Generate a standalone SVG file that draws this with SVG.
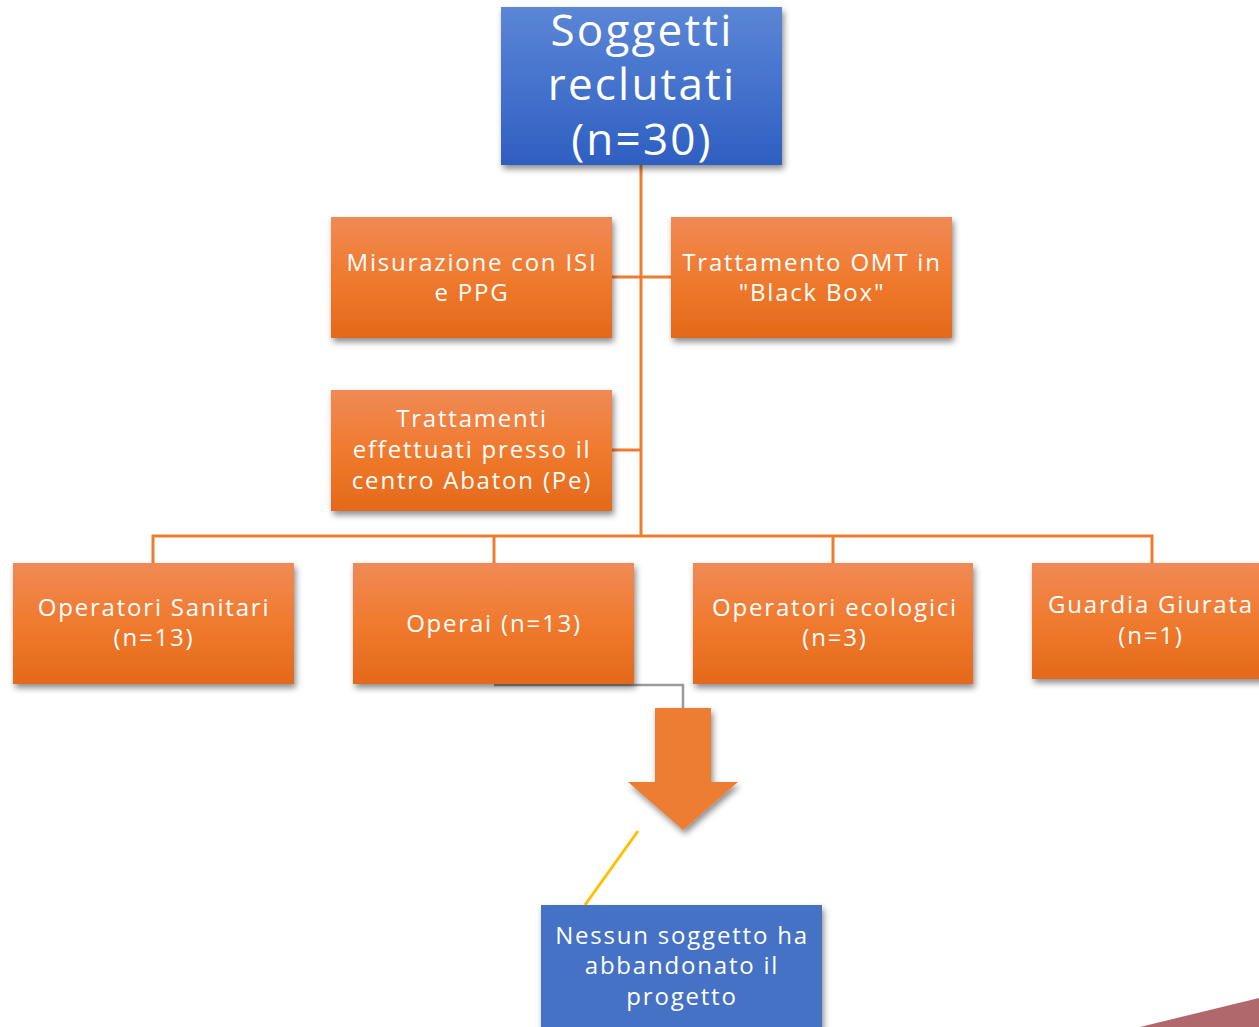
<svg xmlns="http://www.w3.org/2000/svg" width="1259" height="1027" viewBox="0 0 1259 1027">
<defs>
<linearGradient id="gOr" x1="0" y1="0" x2="0" y2="1"><stop offset="0" stop-color="#f08a55"/><stop offset="0.5" stop-color="#f07a2e"/><stop offset="1" stop-color="#e4691a"/></linearGradient>
<linearGradient id="gBl" x1="0" y1="0" x2="0" y2="1"><stop offset="0" stop-color="#5b86d6"/><stop offset="1" stop-color="#2e5fc2"/></linearGradient>
<filter id="sh" x="-10%" y="-10%" width="125%" height="130%"><feDropShadow dx="2" dy="4" stdDeviation="3" flood-color="#000" flood-opacity="0.45"/></filter>
</defs>
<style>
.t{font-family:"Open Sans","Liberation Sans",Arial,sans-serif;fill:#ffffff;text-anchor:middle}
.b{font-size:24px;letter-spacing:1.8px}
.h{font-size:44px;letter-spacing:2.2px}
.c{stroke:#ed7d31;stroke-width:3;fill:none}
.or{fill:url(#gOr);filter:url(#sh)}
</style>
<rect width="1259" height="1027" fill="#ffffff"/>
<polygon points="1140,1027 1259,998 1259,1027" fill="#b0686c"/>
<g id="connectors">
<path class="c" d="M641,165 V536 M612,277 H671 M612,450 H641 M153,563 V536 H1152 V563 M494,536 V563 M833,536 V563"/>
<path d="M494,685 H683 V708" stroke="#9a9a9a" stroke-width="2.5" fill="none"/>
<line x1="638" y1="831" x2="585" y2="905" stroke="#ffc000" stroke-width="3"/>
</g>
<g id="n-top"><rect x="501" y="7" width="281" height="158" fill="url(#gBl)" filter="url(#sh)"/>
<text class="t h" x="642" y="46">Soggetti</text><text class="t h" x="642" y="100">reclutati</text><text class="t h" x="642" y="155">(n=30)</text></g>
<g id="n-misurazione"><rect class="or" x="331" y="217" width="281" height="121"/>
<text class="t b" x="472" y="271">Misurazione con ISI</text><text class="t b" x="472" y="301">e PPG</text></g>
<g id="n-omt"><rect class="or" x="671" y="217" width="281" height="121"/>
<text class="t b" x="812" y="271">Trattamento OMT in</text><text class="t b" x="812" y="301">"Black Box"</text></g>
<g id="n-abaton"><rect class="or" x="331" y="390" width="281" height="121"/>
<text class="t b" x="472" y="427">Trattamenti</text><text class="t b" x="472" y="458">effettuati presso il</text><text class="t b" x="472" y="489">centro Abaton (Pe)</text></g>
<g id="n-sanitari"><rect class="or" x="13" y="563" width="281" height="121"/>
<text class="t b" x="154" y="616">Operatori Sanitari</text><text class="t b" x="154" y="646">(n=13)</text></g>
<g id="n-operai"><rect class="or" x="353" y="563" width="281" height="121"/>
<text class="t b" x="494" y="632">Operai (n=13)</text></g>
<g id="n-ecologici"><rect class="or" x="693" y="563" width="280" height="121"/>
<text class="t b" x="835" y="616">Operatori ecologici</text><text class="t b" x="835" y="646">(n=3)</text></g>
<g id="n-guardia"><rect class="or" x="1032" y="563" width="240" height="116"/>
<text class="t b" x="1151" y="613">Guardia Giurata</text><text class="t b" x="1151" y="644">(n=1)</text></g>
<g id="n-arrow"><polygon points="655,708 711,708 711,782 738,782 683,830 628,782 655,782" fill="#ed7d31" filter="url(#sh)"/></g>
<g id="n-nessun"><rect x="541" y="905" width="281" height="130" fill="#4472c4" filter="url(#sh)"/>
<text class="t b" x="682" y="944">Nessun soggetto ha</text><text class="t b" x="682" y="974">abbandonato il</text><text class="t b" x="682" y="1005">progetto</text></g>
</svg>
